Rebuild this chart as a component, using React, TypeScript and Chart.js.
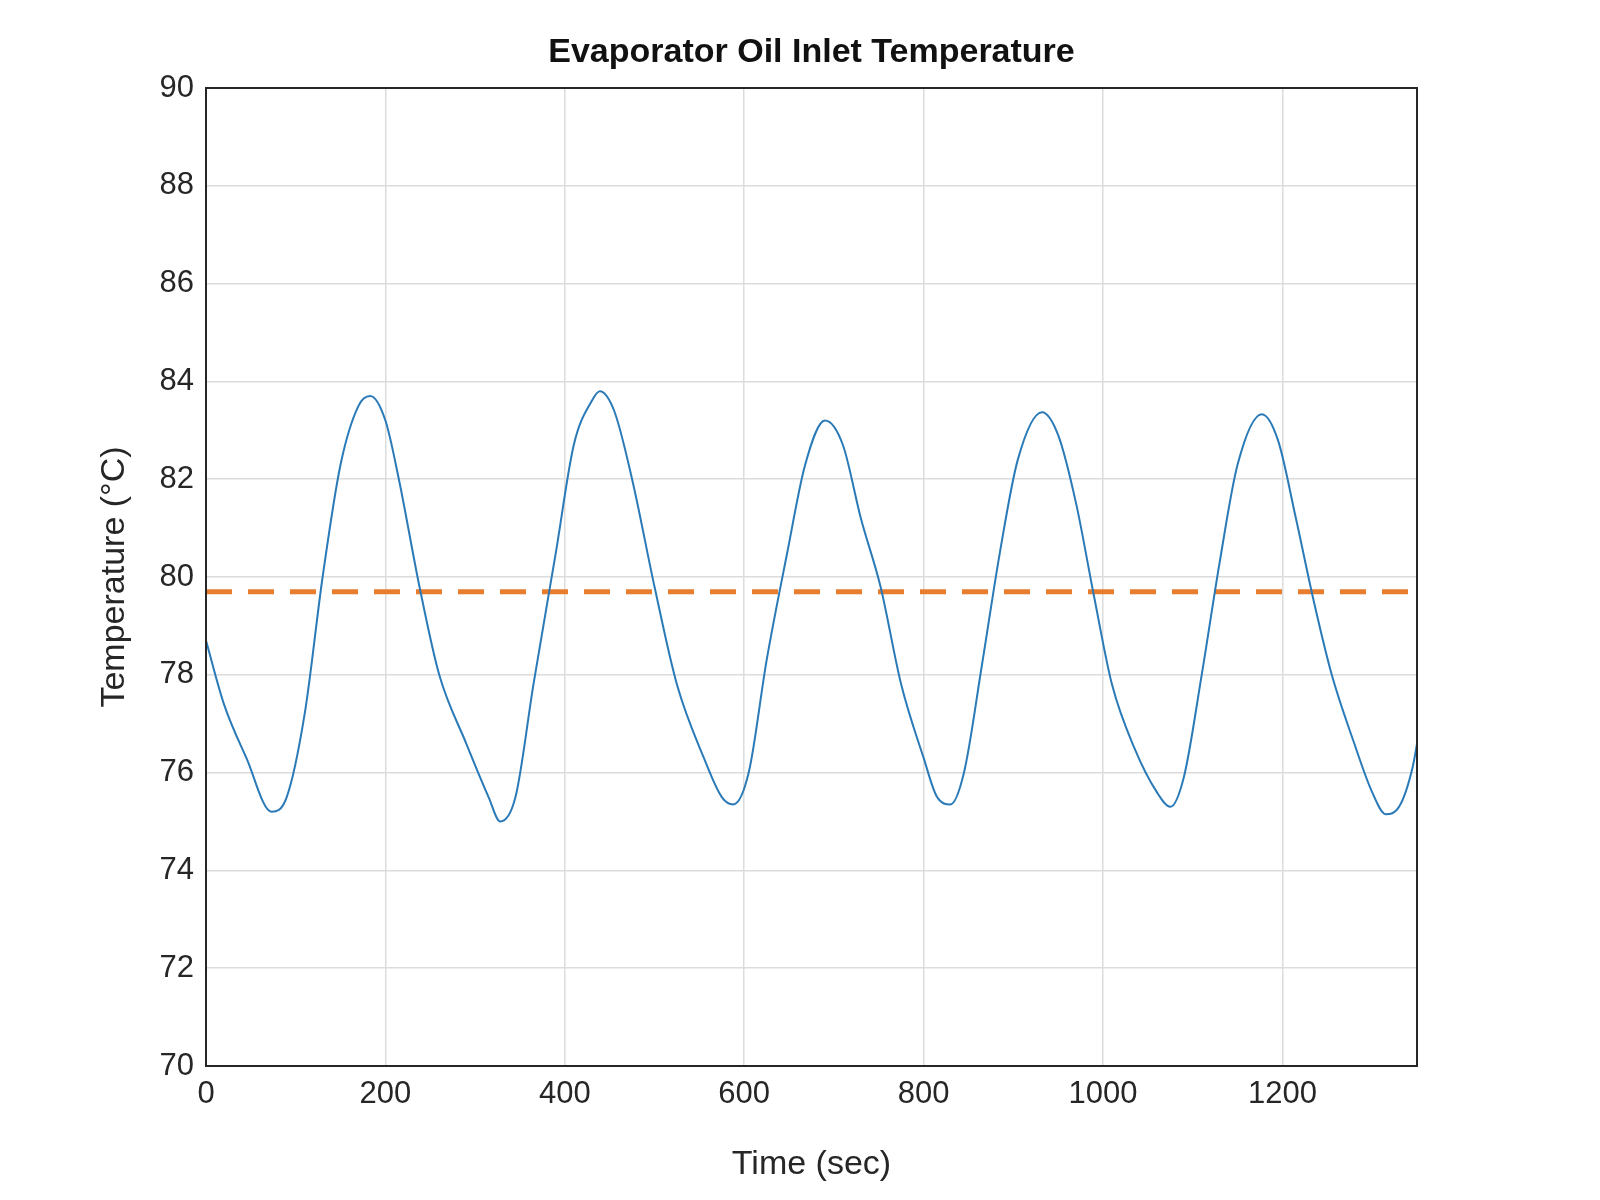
import React, { useEffect, useRef } from "react";
import { Chart, registerables } from "chart.js";
Chart.register(...registerables);

const timeSec = [0,20,45,73,90,110,130,150,170,183,200,215,238,260,290,315,328,345,365,390,410,430,439,455,475,500,525,555,575,588,605,625,648,668,690,710,730,752,775,800,815,830,845,865,885,905,932,950,970,990,1010,1035,1060,1075,1090,1110,1130,1150,1177,1195,1215,1235,1255,1280,1300,1315,1330,1345,1352];
const temperature = [78.7,77.4,76.3,75.2,75.5,77.2,80,82.3,83.5,83.7,83.2,82,79.8,78,76.6,75.5,75.0,75.5,77.8,80.5,82.7,83.6,83.8,83.4,82,79.8,77.8,76.3,75.5,75.35,76,78.3,80.5,82.3,83.2,82.7,81.2,79.8,77.8,76.3,75.5,75.35,76,78.2,80.5,82.4,83.37,82.9,81.5,79.6,77.8,76.5,75.6,75.3,75.9,78,80.3,82.3,83.33,82.8,81.2,79.5,78,76.6,75.6,75.15,75.3,76.1,76.8];
const meanTime = [0, 1345];
const meanValue = [79.7, 79.7];
const titleText = "Evaporator Oil Inlet Temperature";

export default function App() {
  const ref = useRef<HTMLCanvasElement>(null);
  useEffect(() => {
    const font = "'Liberation Sans', Arial, sans-serif";
    const box = {
      id: "box",
      afterDraw(c: any) {
        const { ctx, chartArea: a } = c;
        ctx.save();
        ctx.strokeStyle = "#262626";
        ctx.lineWidth = 2;
        ctx.strokeRect(a.left, a.top, a.right - a.left, a.bottom - a.top);
        ctx.fillStyle = "#111";
        ctx.font = `bold 34px ${font}`;
        ctx.textAlign = "center";
        ctx.textBaseline = "middle";
        ctx.fillText(titleText, (a.left + a.right) / 2, 45);
        ctx.restore();
      },
    };
    const chart = new Chart(ref.current!, {
      type: "line",
      data: {
        datasets: [
          { data: timeSec.map((t, i) => ({ x: t, y: temperature[i] })), borderColor: "#2a7ab8", borderWidth: 2, pointRadius: 0, cubicInterpolationMode: "monotone" },
          { data: meanTime.map((t, i) => ({ x: t, y: meanValue[i] })), borderColor: "#e87d2e", borderWidth: 5, borderDash: [26, 16], pointRadius: 0 },
        ],
      },
      options: {
        animation: false,
        responsive: false,
        layout: { padding: { left: 82, right: 175, top: 80, bottom: 0 } },
        plugins: { legend: { display: false }, tooltip: { enabled: false }, title: { display: false } },
        scales: {
          x: {
            type: "linear", min: 0, max: 1350,
            afterBuildTicks: (s: any) => { s.ticks = s.ticks.filter((t: any) => t.value % 200 === 0); },
            ticks: { stepSize: 200, color: "#262626", font: { family: font, size: 31 }, maxRotation: 0, padding: 10, callback: (v: any) => String(v) },
            grid: { color: "#dcdcdc", lineWidth: 1.5, tickLength: 0 },
            border: { display: false },
            title: { display: true, text: "Time (sec)", color: "#262626", font: { family: font, size: 34 }, padding: { top: 6 } },
            afterFit: (s: any) => { s.height = 123; },
          },
          y: {
            min: 70, max: 90,
            ticks: { stepSize: 2, color: "#262626", font: { family: font, size: 31 }, padding: 12 },
            grid: { color: "#dcdcdc", lineWidth: 1.5, tickLength: 0 },
            border: { display: false },
            title: { display: true, text: "Temperature (°C)", color: "#262626", font: { family: font, size: 34 }, padding: { bottom: 4 } },
            afterFit: (s: any) => { s.width = 116; },
          },
        },
      } as any,
      plugins: [box],
    });
    return () => chart.destroy();
  }, []);
  return <canvas ref={ref} width={1584} height={1181} style={{ display: "block" }} />;
}
